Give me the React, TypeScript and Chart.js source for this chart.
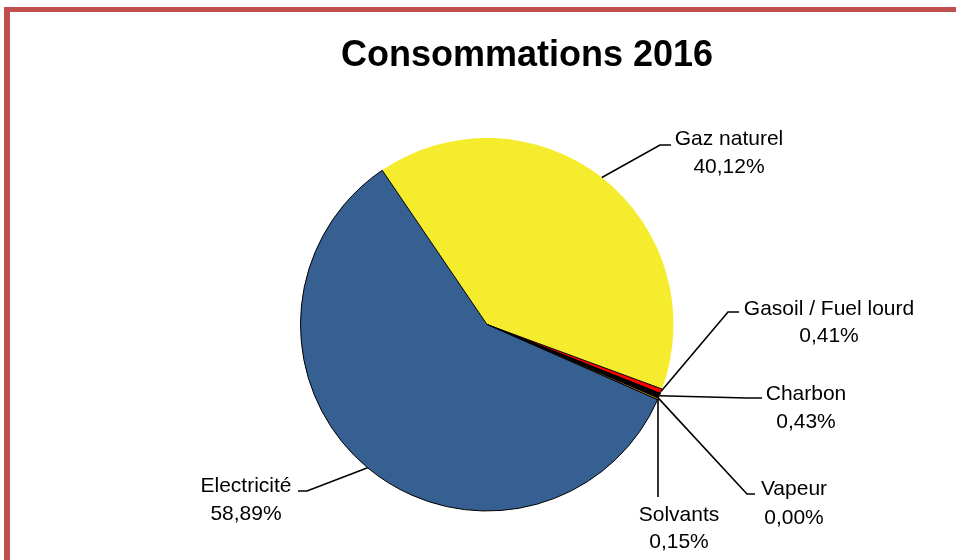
import { useEffect, useRef } from "react";
import { Chart, registerables } from "chart.js";

Chart.register(...registerables);

const titleText = "Consommations 2016";
const categories = ["Gaz naturel", "Gasoil / Fuel lourd", "Charbon", "Vapeur", "Solvants", "Electricité"];
const shares = [40.12, 0.41, 0.43, 0.0, 0.15, 58.89];
const colors = ["#f4ec2c", "#ff0000", "#000000", "#7f7f7f", "#f5b000", "#376092"];
const borderWidths = [0, 1, 1, 1, 1, 1];

// label annotation layout (elbow point, end of leader, text centre, baselines)
const labelLayout = [
  { elbow: [660, 145], end: [671, 145], tx: 729, ty: [145, 172.5] },
  { elbow: [728, 312], end: [739, 312], tx: 829, ty: [315, 342] },
  { elbow: [747, 398], end: [762, 398], tx: 806, ty: [400, 428] },
  { elbow: [747, 494], end: [755, 494], tx: 794, ty: [495, 524] },
  { elbow: [null, 497], end: null, tx: 679, ty: [520.5, 548] },
  { elbow: [307, 491], end: [298, 491], tx: 246, ty: [491.5, 520] },
];

const fmt = (v: number) => v.toFixed(2).replace(".", ",") + "%";

const labelPlugin = {
  id: "leaderLabels",
  afterDraw(chart: any) {
    const ctx = chart.ctx;
    const meta = chart.getDatasetMeta(0);
    ctx.save();
    // title
    ctx.fillStyle = "#000";
    ctx.textAlign = "center";
    ctx.textBaseline = "alphabetic";
    ctx.font = "bold 36px 'Liberation Sans', Arial, sans-serif";
    ctx.fillText(titleText, 527, 66);

    ctx.font = "21px 'Liberation Sans', Arial, sans-serif";
    ctx.strokeStyle = "#000";
    ctx.lineWidth = 1.6;
    meta.data.forEach((arc: any, i: number) => {
      const { x, y, startAngle, endAngle, outerRadius } = arc.getProps(
        ["x", "y", "startAngle", "endAngle", "outerRadius"],
        true
      );
      const mid = (startAngle + endAngle) / 2;
      const ax = x + Math.cos(mid) * outerRadius;
      const ay = y + Math.sin(mid) * outerRadius;
      const L = labelLayout[i];
      const ex = L.elbow[0] == null ? ax : (L.elbow[0] as number);
      const ey = L.elbow[1] as number;
      ctx.beginPath();
      ctx.moveTo(ax, ay);
      ctx.lineTo(ex, ey);
      if (L.end) ctx.lineTo(L.end[0], L.end[1]);
      ctx.stroke();
      ctx.fillText(categories[i], L.tx, L.ty[0]);
      ctx.fillText(fmt(shares[i]), L.tx, L.ty[1]);
    });
    ctx.restore();
  },
};

export default function App() {
  const ref = useRef<HTMLCanvasElement>(null);
  useEffect(() => {
    if (!ref.current) return;
    const chart = new Chart(ref.current, {
      type: "pie",
      data: {
        labels: categories,
        datasets: [
          {
            data: shares,
            backgroundColor: colors,
            borderColor: "#000000",
            borderWidth: borderWidths,
          },
        ],
      },
      options: {
        animation: false,
        responsive: false,
        rotation: -34.2,
        layout: { padding: { left: 300, right: 282, top: 137, bottom: 48 } },
        plugins: {
          legend: { display: false },
          title: { display: false },
          tooltip: { enabled: false },
        },
      },
      plugins: [labelPlugin],
    });
    return () => chart.destroy();
  }, []);
  return (
    <div
      style={{
        position: "fixed",
        left: 0,
        top: 0,
        width: 956,
        height: 560,
        background: "#fff",
        overflow: "hidden",
      }}
    >
      <div
        style={{
          position: "absolute",
          left: 4,
          top: 7,
          width: 1200,
          height: 800,
          borderLeft: "6px solid #c0504d",
          borderTop: "5px solid #c0504d",
          boxSizing: "border-box",
        }}
      />
      <canvas
        ref={ref}
        width={956}
        height={560}
        style={{ position: "absolute", left: 0, top: 0, width: 956, height: 560 }}
      />
    </div>
  );
}
